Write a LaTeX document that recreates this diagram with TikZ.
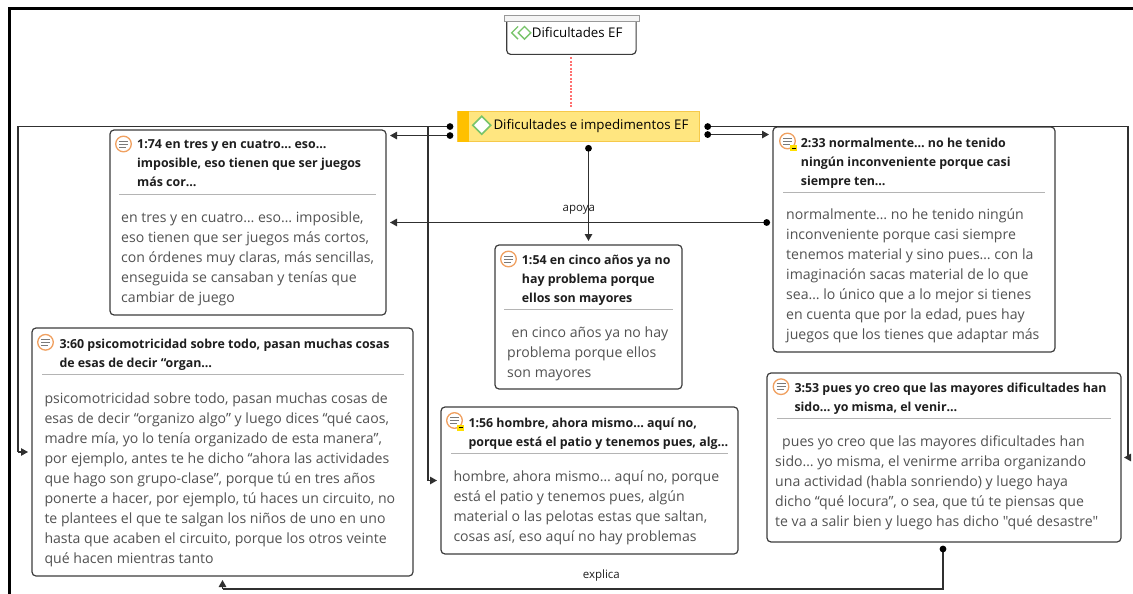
\documentclass[tikz,border=0pt]{standalone}
\usepackage{fontspec}
\setmainfont{Open Sans}[Ligatures=TeXOff]
\usetikzlibrary{arrows.meta,calc}
\definecolor{boxc}{HTML}{3C3C3C}
\definecolor{bodyc}{HTML}{525252}
\definecolor{titlec}{HTML}{1E1E1E}
\definecolor{sepc}{HTML}{B4B4B4}
\definecolor{connc}{HTML}{303030}
\definecolor{iconc}{HTML}{F0A060}
\definecolor{icl}{HTML}{7A7A7A}
\definecolor{codefill}{HTML}{FFE680}
\definecolor{codeedge}{HTML}{F6C94A}
\definecolor{stripec}{HTML}{FFC000}
\definecolor{greenc}{HTML}{78C46A}
\definecolor{dotred}{HTML}{FF7070}
\definecolor{badgec}{HTML}{FFE000}
\begin{document}
\begin{tikzpicture}[x=1pt,y=-1pt,
  qbox/.style={draw=boxc, line width=1.2pt, rounded corners=4pt, fill=white, anchor=north west, inner sep=0pt, outer sep=0pt},
  qtitle/.style={anchor=north west, inner sep=0pt, align=left, text=titlec, font=\bfseries\fontsize{12.4}{19}\selectfont},
  qbody/.style={anchor=north west, inner sep=0pt, align=left, text=bodyc, font=\fontsize{14.1}{20}\selectfont},
  sepline/.style={draw=sepc, line width=0.9pt},
  conn/.style={draw=connc, line width=1.2pt},
  arr/.style={conn, -{Triangle[length=7pt,width=7.5pt]}, shorten >=4pt},
  lbl/.style={font=\fontsize{11.5}{13}\selectfont, text=titlec, inner sep=0pt, anchor=base},
  qicon/.pic={\draw[iconc, line width=1.3pt, fill=white] (0,0) circle (7.8);
     \draw[icl, line width=1pt] (-4.5,-3) -- (4.5,-3) (-4.5,0) -- (4.5,0) (-4.5,3) -- (2.5,3);},
  qbadge/.pic={\fill[badgec] (2.8,4.3) rectangle (9.8,10.3);
     \draw[black, line width=0.8pt] (4.3,7.3) -- (8.3,7.3);},
  gdiamond/.pic={\draw[greenc, line width=1.5pt, fill=white] (0,-9) -- (9,0) -- (0,9) -- (-9,0) -- cycle;}
]
\useasboundingbox (0,0) rectangle (1133,594);
% frame
\draw[black, line width=2.6pt] (9.5,594) -- (9.5,8.7) -- (1133,8.7);

% top code node
\node[anchor=north west, inner sep=0pt, minimum width=129, minimum height=33.3] (top) at (506.7,20.7) {};
\draw[boxc, line width=1.2pt, rounded corners=4pt, fill=white] (top.north west) -- (top.south west) -- (top.south east) -- (top.north east);
\node[draw=gray!80, fill=gray!8, line width=0.8pt, anchor=north west, inner sep=0pt, minimum width=134.7, minimum height=5.7] (topbar) at (504.3,15) {};
\draw[greenc, line width=1.4pt] (518,26.5) -- (511.7,32.8) -- (518,39.1);
\draw[greenc, line width=1.4pt, fill=white] (524.5,26.5) -- (530.8,32.8) -- (524.5,39.1) -- (518.2,32.8) -- cycle;
\node[anchor=base west, inner sep=0pt, font=\fontsize{13.3}{15}\selectfont, text=black] (topt) at (531.7,37.5) {Dificultades EF};

% core code node
\node[draw=codeedge, fill=codefill, line width=1pt, anchor=north west, inner sep=0pt, minimum width=242.3, minimum height=30.3] (core) at (457,110.7) {};
\fill[stripec] ($(core.north west)+(0.5,0.5)$) rectangle ($(core.south west)+(12.3,-0.5)$);
\pic at ($(core.west)+(24.7,-1.1)$) {gdiamond};
\node[anchor=base west, inner sep=0pt, font=\fontsize{13.3}{15}\selectfont, text=black] (coret) at (493.3,129.8) {Dificultades e impedimentos EF};

\draw[dotred, line width=2pt, dash pattern=on 2pt off 1.4pt, shorten <=3pt, shorten >=2.4pt] (top.south) -- (top.south |- core.north);

% quotation boxes
\node[qbox, minimum width=276, minimum height=185] (q174) at (110,130) {};
\node[qbox, minimum width=282, minimum height=225] (q233) at (773,127) {};
\node[qbox, minimum width=187, minimum height=144] (q154) at (495,245) {};
\node[qbox, minimum width=381, minimum height=248] (q360) at (32,328) {};
\node[qbox, minimum width=297, minimum height=147] (q156) at (441,407) {};
\node[qbox, minimum width=354, minimum height=169] (q353) at (767,373) {};

% separators
\draw[sepline] ($(q174.north west)+(9,64)$) -- ($(q174.north east)+(-10,64)$);
\draw[sepline] ($(q233.north west)+(10,65)$) -- ($(q233.north east)+(-10,65)$);
\draw[sepline] ($(q154.north west)+(9,64)$) -- ($(q154.north east)+(-9,64)$);
\draw[sepline] ($(q360.north west)+(10,46)$) -- ($(q360.north east)+(-9,46)$);
\draw[sepline] ($(q156.north west)+(10,46)$) -- ($(q156.north east)+(-10,46)$);
\draw[sepline] ($(q353.north west)+(10,45)$) -- ($(q353.north east)+(-10,45)$);

% icons
\pic at ($(q174.north west)+(13.5,14)$) {qicon};
\pic at ($(q233.north west)+(14.5,14)$) {qicon};
\pic at ($(q233.north west)+(14.5,14)$) {qbadge};
\pic at ($(q154.north west)+(13.5,14)$) {qicon};
\pic at ($(q360.north west)+(13.5,14.3)$) {qicon};
\pic at ($(q156.north west)+(13.5,13.5)$) {qicon};
\pic at ($(q156.north west)+(13.5,13.5)$) {qbadge};
\pic at ($(q353.north west)+(14,13.7)$) {qicon};

% texts
\node[qtitle] (t174) at ($(q174.north west)+(27,9.5)$) {1:74 en tres y en cuatro… eso…\\imposible, eso tienen que ser juegos\\más cor…};
\node[qbody] (b174) at ($(q174.north west)+(11,81.2)$) {en tres y en cuatro… eso… imposible,\\eso tienen que ser juegos más cortos,\\con órdenes muy claras, más sencillas,\\enseguida se cansaban y tenías que\\cambiar de juego};

\node[qtitle] (t233) at ($(q233.north west)+(27.7,10.5)$) {2:33 normalmente… no he tenido\\ningún inconveniente porque casi\\siempre ten…};
\node[qbody] (b233) at ($(q233.north west)+(13,81.8)$) {normalmente… no he tenido ningún\\inconveniente porque casi siempre\\tenemos material y sino pues… con la\\imaginación sacas material de lo que\\sea… lo único que a lo mejor si tienes\\en cuenta que por la edad, pues hay\\juegos que los tienes que adaptar más};

\node[qtitle] (t154) at ($(q154.north west)+(26.7,10.2)$) {1:54 en cinco años ya no\\hay problema porque\\ellos son mayores};
\node[qbody] (b154) at ($(q154.north west)+(12,81.2)$) {\hspace*{4.5pt}en cinco años ya no hay\\problema porque ellos\\son mayores};

\node[qtitle] (t360) at ($(q360.north west)+(27.3,10.5)$) {3:60 psicomotricidad sobre todo, pasan muchas cosas\\de esas de decir “organ…};
\node[qbody] (b360) at ($(q360.north west)+(12.3,64.2)$) {psicomotricidad sobre todo, pasan muchas cosas de\\esas de decir “organizo algo” y luego dices “qué caos,\\madre mía, yo lo tenía organizado de esta manera”,\\por ejemplo, antes te he dicho “ahora las actividades\\que hago son grupo-clase”, porque tú en tres años\\ponerte a hacer, por ejemplo, tú haces un circuito, no\\te plantees el que te salgan los niños de uno en uno\\hasta que acaben el circuito, porque los otros veinte\\qué hacen mientras tanto};

\node[qtitle] (t156) at ($(q156.north west)+(27.3,10.5)$) {1:56 hombre, ahora mismo… aquí no,\\porque está el patio y tenemos pues, alg…};
\node[qbody] (b156) at ($(q156.north west)+(12.3,63.5)$) {hombre, ahora mismo… aquí no, porque\\está el patio y tenemos pues, algún\\material o las pelotas estas que saltan,\\cosas así, eso aquí no hay problemas};

\node[qtitle] (t353) at ($(q353.north west)+(27.3,9.5)$) {3:53 pues yo creo que las mayores dificultades han\\sido… yo misma, el venir…};
\node[qbody] (b353) at ($(q353.north west)+(8,62.2)$) {\hspace*{7pt}pues yo creo que las mayores dificultades han\\sido… yo misma, el venirme arriba organizando\\una actividad (habla sonriendo) y luego haya\\dicho “qué locura”, o sea, que tú te piensas que\\te va a salir bien y luego has dicho "qué desastre"};

% connector end points and bends
\coordinate (dL1) at ($(core.west)+(-7,0.2)$);
\coordinate (dL2) at ($(core.west)+(-7,9.2)$);
\coordinate (dR1) at ($(core.east)+(7.4,0.2)$);
\coordinate (dR2) at ($(core.east)+(7.4,8.2)$);
\coordinate (dB) at ($(q154.north |- core.south)+(0,6.3)$);
\coordinate (dA) at ($(q233.west |- q174.east)+(-6.3,0)$);
\coordinate (dE) at ($(q353.south)+(-1,7)$);
\coordinate (bL) at ($(q360.west)+(-14,0)$);
\coordinate (bM) at ($(q156.west)+(-13,0)$);
\coordinate (bR) at ($(q353.east)+(7,0)$);
\coordinate (bE) at ($(q360.south)+(0,13)$);

% connectors
\draw[conn] (dL1) -| (bL);
\draw[arr] (bL) -- (q360.west);
\draw[conn] (dL1) -| (bM);
\draw[arr] (bM) -- (q156.west);
\draw[arr] (dL2) -- (dL2 -| q174.east);
\draw[arr] (dB) -- (q154.north);
\draw[arr] (dA) -- (dA -| q174.east);
\draw[arr] (dR2) -- (dR2 -| q233.west);
\draw[conn] (dR1) -| (bR);
\draw[arr, shorten >=3pt] (bR) -- (q353.east);
\draw[conn] (dE) |- (bE);
\draw[arr] (bE) -- (q360.south);
\foreach \p in {dL1,dL2,dR1,dR2,dB,dA,dE} \fill[black] (\p) circle (3.4);

\node[lbl] (lapoya) at ($(dA)!0.5!(dA -| q174.east)+(2.5,-11.5)$) {apoya};
\node[lbl] (lexp) at (601.3,578) {explica};
\end{tikzpicture}
\end{document}
